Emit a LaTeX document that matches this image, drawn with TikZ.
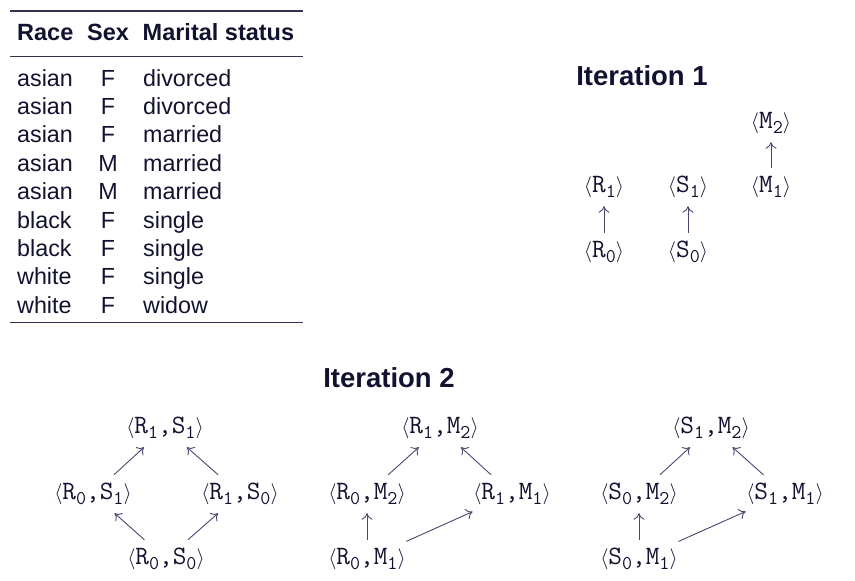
\documentclass[tikz,border=0pt]{standalone}
\usepackage{graphicx}
\usepackage{fontspec}
\setmainfont{Liberation Sans}
\usetikzlibrary{arrows.meta}
\definecolor{txt}{RGB}{18,18,48}
\definecolor{arrc}{RGB}{72,72,110}
\definecolor{rulec}{RGB}{50,50,80}
\newcommand{\lb}{\scalebox{2.1}{$\langle$}}
\newcommand{\rb}{\scalebox{2.1}{$\rangle$}}
\newcommand{\sbs}[1]{\raisebox{-0.2em}{\fontsize{19.5}{19.5}\selectfont #1}}
\newcommand{\tp}[1]{\lb{\fontsize{26.5}{26.5}\selectfont\ttfamily #1}\rb}
\tikzset{
  tb/.style={anchor=base west, inner sep=0pt, font=\fontsize{23.3}{23.3}\selectfont, text=txt},
  tbc/.style={anchor=base, inner sep=0pt, font=\fontsize{23.3}{23.3}\selectfont, text=txt},
  hd/.style={anchor=base west, inner sep=0pt, font=\fontsize{23.5}{23.5}\selectfont\bfseries, text=txt},
  ttl/.style={anchor=base, inner sep=0pt, font=\fontsize{27.5}{27.5}\selectfont\bfseries, text=txt},
  vx/.style={inner xsep=0.5pt, inner ysep=0pt, minimum height=38pt, text=txt},
  arr/.style={draw=arrc, line width=0.9pt, -{To[length=6.5pt,width=11pt]}},
  rl/.style={draw=rulec, line width=1.1pt}
}
\begin{document}
\begin{tikzpicture}[x=1pt,y=-1pt]
\useasboundingbox (0,0) rectangle (855,581);
% table
\coordinate (r1a) at (10,11); \coordinate (r1b) at (303,11);
\coordinate (r2a) at (10,56.7); \coordinate (r2b) at (303,56.7);
\coordinate (r3a) at (10,322.7); \coordinate (r3b) at (303,322.7);
\draw[rl] (r1a) -- (r1b);
\draw[rl] (r2a) -- (r2b);
\draw[rl] (r3a) -- (r3b);
\node[hd] (hrace) at (17,40) {Race};
\node[hd] (hsex) at (87,40) {Sex};
\node[hd] (hms) at (142.5,40) {Marital status};
\foreach \r/\s/\m [count=\i from 0] in {asian/F/divorced, asian/F/divorced, asian/F/married, asian/M/married, asian/M/married, black/F/single, black/F/single, white/F/single, white/F/widow}{
  \node[tb] (ra\i) at (17,86+28.4*\i) {\r};
  \node[tbc] (se\i) at (108,86+28.4*\i) {\s};
  \node[tb] (ma\i) at (143,86+28.4*\i) {\m};
}
% titles
\node[ttl] (it1) at (642,85) {Iteration 1};
\node[ttl] (it2) at (389,387) {Iteration 2};
% iteration 1
\node[vx] (aR1) at (604,187) {\tp{R\sbs{1}}};
\node[vx] (aS1) at (688,187) {\tp{S\sbs{1}}};
\node[vx] (aM1) at (771,187) {\tp{M\sbs{1}}};
\node[vx] (aM2) at (771,123) {\tp{M\sbs{2}}};
\node[vx] (aR0) at (604,252) {\tp{R\sbs{0}}};
\node[vx] (aS0) at (688,252) {\tp{S\sbs{0}}};
\draw[arr] (aR0) -- (aR1);
\draw[arr] (aS0) -- (aS1);
\draw[arr] (aM1) -- (aM2);
% iteration 2, group 1
\node[vx] (bR1S1) at (165,428) {\tp{R\sbs{1},S\sbs{1}}};
\node[vx] (bR0S1) at (93,494) {\tp{R\sbs{0},S\sbs{1}}};
\node[vx] (bR1S0) at (240,494) {\tp{R\sbs{1},S\sbs{0}}};
\node[vx] (bR0S0) at (166,559) {\tp{R\sbs{0},S\sbs{0}}};
\draw[arr] (bR0S1) -- (bR1S1);
\draw[arr] (bR1S0) -- (bR1S1);
\draw[arr] (bR0S0) -- (bR0S1);
\draw[arr] (bR0S0) -- (bR1S0);
% group 2
\node[vx] (cR1M2) at (440,428) {\tp{R\sbs{1},M\sbs{2}}};
\node[vx] (cR0M2) at (367,494) {\tp{R\sbs{0},M\sbs{2}}};
\node[vx] (cR1M1) at (512,494) {\tp{R\sbs{1},M\sbs{1}}};
\node[vx] (cR0M1) at (367,559) {\tp{R\sbs{0},M\sbs{1}}};
\draw[arr] (cR0M2) -- (cR1M2);
\draw[arr] (cR1M1) -- (cR1M2);
\draw[arr] (cR0M1) -- (cR0M2);
\draw[arr] (cR0M1) -- (cR1M1);
% group 3
\node[vx] (dS1M2) at (711,428) {\tp{S\sbs{1},M\sbs{2}}};
\node[vx] (dS0M2) at (639,494) {\tp{S\sbs{0},M\sbs{2}}};
\node[vx] (dS1M1) at (785,494) {\tp{S\sbs{1},M\sbs{1}}};
\node[vx] (dS0M1) at (639,559) {\tp{S\sbs{0},M\sbs{1}}};
\draw[arr] (dS0M2) -- (dS1M2);
\draw[arr] (dS1M1) -- (dS1M2);
\draw[arr] (dS0M1) -- (dS0M2);
\draw[arr] (dS0M1) -- (dS1M1);
\end{tikzpicture}
\end{document}
